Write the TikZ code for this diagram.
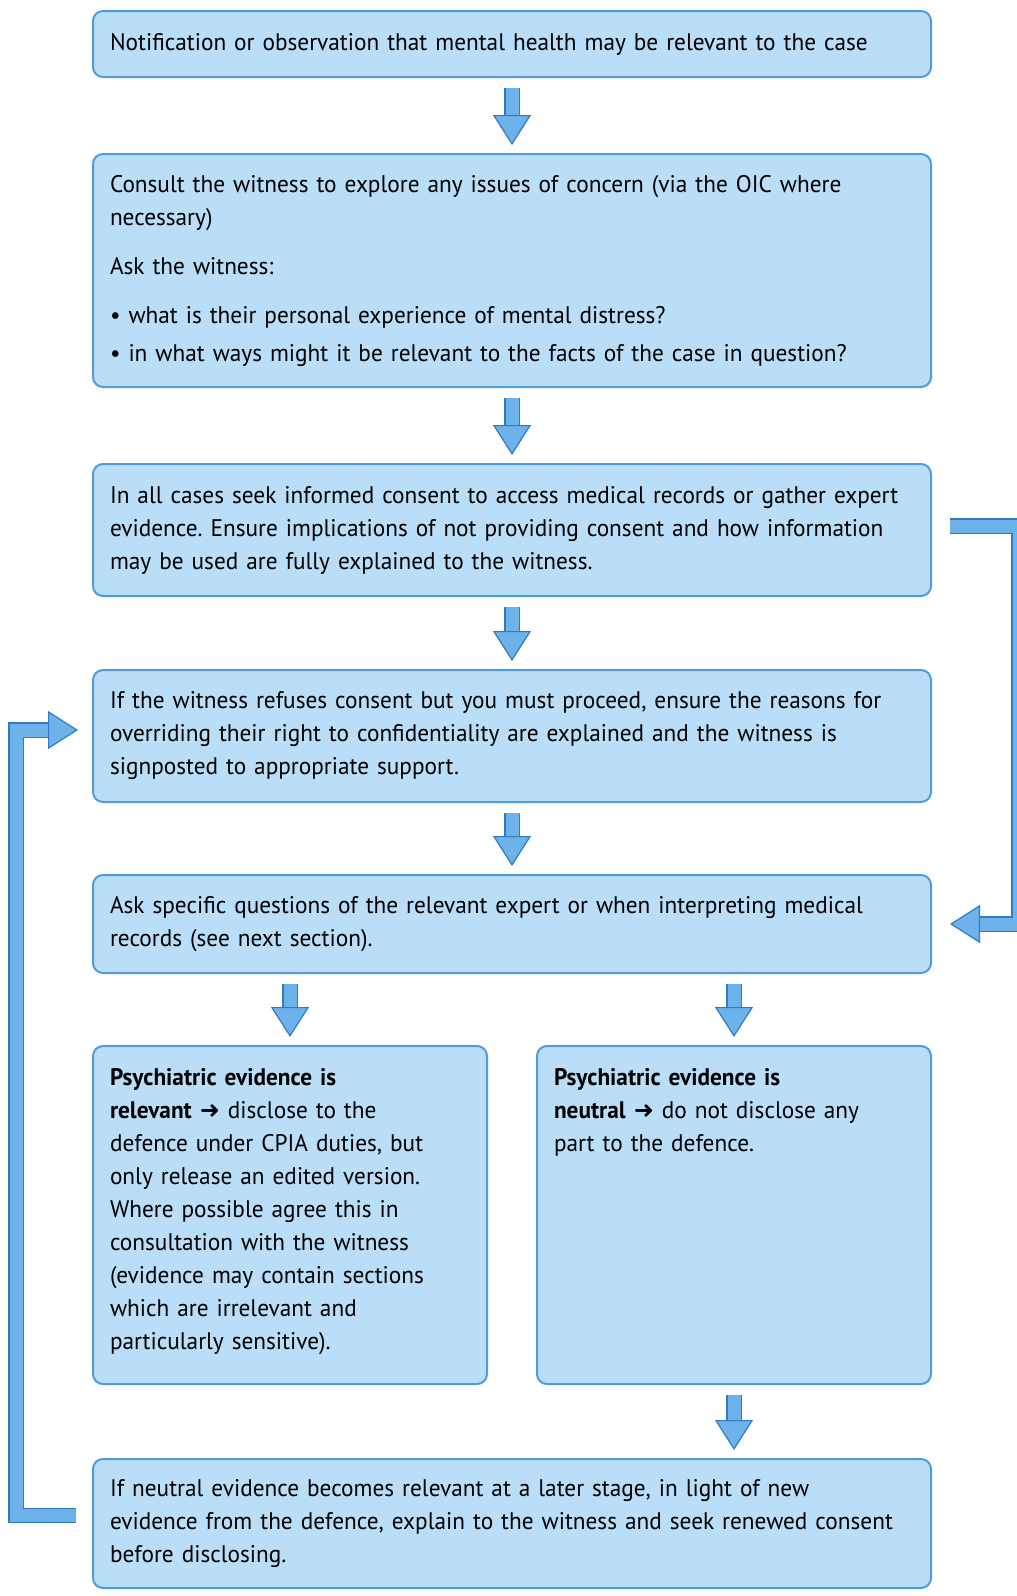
\documentclass[tikz,border=0pt]{standalone}
\usepackage{fontspec}
\setmainfont{PT Sans}[FakeStretch=0.97]
\newfontfamily\symfont{DejaVu Sans}
\usepackage{tikz}
\usetikzlibrary{arrows.meta,positioning,calc}
\usepackage{xcolor}
\definecolor{boxfill}{RGB}{186,222,248}
\definecolor{boxedge}{RGB}{78,155,222}
\definecolor{arrowfill}{RGB}{110,178,234}
\definecolor{arrowedge}{RGB}{48,122,198}
\hyphenpenalty=10000
\exhyphenpenalty=10000
\frenchspacing

\begin{document}
\begin{tikzpicture}[x=0.5pt,y=0.5pt,
	main/.style={draw=boxedge, line width=1pt, fill=boxfill, rounded corners=5pt, text width=402pt, inner xsep=8.5pt, inner ysep=0pt, align=left, font=\fontsize{12}{16.5}\selectfont},
	half/.style={main, text width=180pt, inner ysep=11pt},
	flow/.style={draw=arrowfill, line width=6.5pt, shorten >=4pt, -{Triangle[width=19pt,length=15pt,fill=arrowfill,color=arrowedge,line width=0.6pt]}, preaction={draw=arrowedge, line width=7.7pt, -, shorten >=16pt}}]
	\useasboundingbox (0,0) rectangle (1017,-1596);
	\node[main, minimum height=33pt] (1) at (512,-44) {Notification or observation that mental health may be relevant to the case};
	\node[main, minimum height=116.5pt] (2) [below=37.5pt of 1] {Consult the witness to explore any issues of concern (via the OIC where\\ necessary)\\[8pt] Ask the witness:\\[8pt] • what is their personal experience of mental distress?\\[2.5pt] • in what ways might it be relevant to the facts of the case in question?};
	\node[main, minimum height=66pt] (3) [below=37.5pt of 2] {In all cases seek informed consent to access medical records or gather expert\\ evidence. Ensure implications of not providing consent and how information\\ may be used are fully explained to the witness.};
	\node[main, minimum height=66pt] (4) [below=36pt of 3] {If the witness refuses consent but you must proceed, ensure the reasons for\\ overriding their right to confidentiality are explained and the witness is\\ signposted to appropriate support.};
	\node[main, minimum height=49pt] (5) [below=35.5pt of 4] {Ask specific questions of the relevant expert or when interpreting medical\\ records (see next section).};
	\node[half] (6) [below=35.5pt of 5.south west, anchor=north west] {\parbox[t][147pt][t]{180pt}{\raggedright\textbf{Psychiatric evidence is}\\ \textbf{relevant} {\symfont ➜} disclose to the\\ defence under CPIA duties, but\\ only release an edited version.\\ Where possible agree this in\\ consultation with the witness\\ (evidence may contain sections\\ which are irrelevant and\\ particularly sensitive).}};
	\node[half] (7) [below=35.5pt of 5.south east, anchor=north east] {\parbox[t][147pt][t]{180pt}{\raggedright\textbf{Psychiatric evidence is}\\ \textbf{neutral} {\symfont ➜} do not disclose any\\ part to the defence.}};
	\node[main, minimum height=64.5pt] (8) [below=36.5pt of 6.south west, anchor=north west] {If neutral evidence becomes relevant at a later stage, in light of new\\ evidence from the defence, explain to the witness and seek renewed consent\\ before disclosing.};
	\draw[flow, shorten <=5pt] (1) -- (2);
	\draw[flow, shorten <=5pt] (2) -- (3);
	\draw[flow, shorten <=5pt] (3) -- (4);
	\draw[flow, shorten <=5pt] (4) -- (5);
	\draw[flow, shorten <=5pt] (5.south -| 6) -- (6);
	\draw[flow, shorten <=5pt] (5.south -| 7) -- (7);
	\draw[flow, shorten <=5pt] (7) -- (7 |- 8.north);
	\draw[flow] ([shift={(9pt,2pt)}]3.east) -- ++(34.5pt,0) |- ([xshift=5pt]5.east);
	\draw[flow] ([shift={(-8pt,4pt)}]8.west) -- ++(-30pt,0) |- ([shift={(-3pt,3pt)}]4.west);
\end{tikzpicture}
\end{document}
